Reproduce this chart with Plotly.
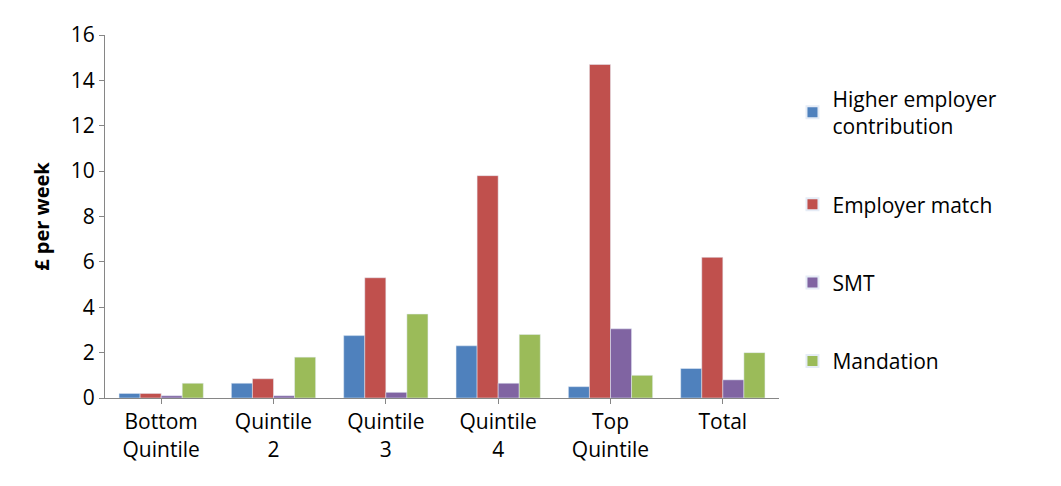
import plotly.graph_objects as go

categories = ["Bottom<br>Quintile", "Quintile<br>2", "Quintile<br>3", "Quintile<br>4", "Top<br>Quintile", "Total"]
higher_employer = [0.2, 0.65, 2.75, 2.3, 0.5, 1.3]
employer_match = [0.2, 0.85, 5.3, 9.8, 14.7, 6.2]
smt = [0.1, 0.1, 0.25, 0.65, 3.05, 0.8]
mandation = [0.65, 1.8, 3.7, 2.8, 1.0, 2.0]

series = [
    ("Higher employer<br>contribution", higher_employer, "#4F81BD"),
    ("Employer match", employer_match, "#C0504D"),
    ("SMT", smt, "#8064A2"),
    ("Mandation", mandation, "#9BBB59"),
]

fig = go.Figure()
for i, (name, vals, col) in enumerate(series):
    fig.add_trace(go.Bar(x=categories, y=vals, name=name, marker_color=col,
                         legendgroup=str(i)))

fig.update_layout(
    width=1061, height=486,
    plot_bgcolor="white", paper_bgcolor="white",
    font=dict(family="Open Sans, Liberation Sans, sans-serif", size=21, color="black"),
    margin=dict(l=97, r=290, t=20, b=96),
    barmode="group", bargap=0.25, bargroupgap=0,
    legend=dict(x=1.02, y=0.88, yanchor="top", tracegroupgap=48,
                font=dict(size=21), itemsizing="constant"),
)
fig.update_yaxes(range=[0, 16], dtick=2, showline=True, linecolor="#868686",
                 ticks="outside", tickcolor="#868686", showgrid=False,
                 title=dict(text="<b>£ per week</b>", font=dict(size=20)))
fig.update_xaxes(showline=True, linecolor="#868686", ticks="outside",
                 tickcolor="#868686", showgrid=False)

fig.write_html("out.html")
